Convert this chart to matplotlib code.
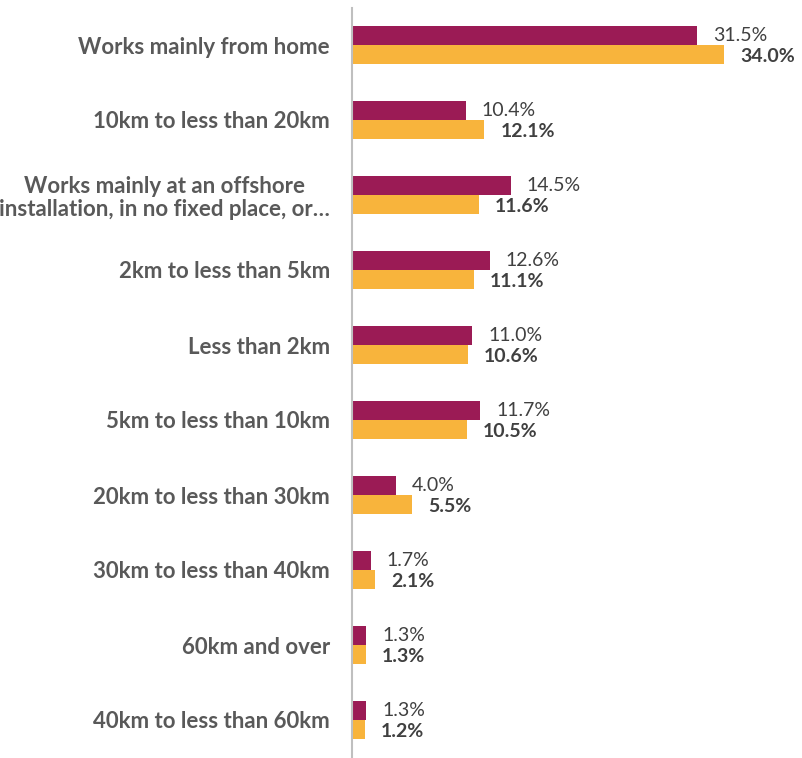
import matplotlib
matplotlib.use("Agg")
import matplotlib.pyplot as plt
import numpy as np

categories = [
    "Works mainly from home",
    "10km to less than 20km",
    "Works mainly at an offshore\ninstallation, in no fixed place, or…",
    "2km to less than 5km",
    "Less than 2km",
    "5km to less than 10km",
    "20km to less than 30km",
    "30km to less than 40km",
    "60km and over",
    "40km to less than 60km",
]
series_a = [31.5, 10.4, 14.5, 12.6, 11.0, 11.7, 4.0, 1.7, 1.3, 1.3]
series_b = [34.0, 12.1, 11.6, 11.1, 10.6, 10.5, 5.5, 2.1, 1.3, 1.2]

color_a = "#9B1B55"
color_b = "#F8B43C"

plt.rcParams['font.family'] = ['Lato', 'DejaVu Sans']

fig = plt.figure(figsize=(8.02, 7.58), dpi=100)
ax = fig.add_axes([352/802, 0.5/758, 1 - 352/802, 750/758])

y = np.arange(len(categories))
h = 0.253
ax.barh(y - h/2, series_a, height=h, color=color_a)
ax.barh(y + h/2, series_b, height=h, color=color_b)

for yi, va, vb in zip(y, series_a, series_b):
    ax.annotate(f"{va:.1f}%", (va, yi - h/2), xytext=(16, 0), textcoords="offset pixels",
                va="center", ha="left", fontsize=14, color="#404040")
    ax.annotate(f"{vb:.1f}%", (vb, yi + h/2), xytext=(16, -2), textcoords="offset pixels",
                va="center", ha="left", fontsize=14, color="#404040", fontweight="bold")

ax.set_xlim(0, 41.1)
ax.set_ylim(len(categories) - 0.5, -0.5)
ax.set_yticks(y)
ax.set_yticklabels(categories, fontsize=16, fontweight="bold", color="#595959",
                   linespacing=1.1)
for lbl in ax.get_yticklabels():
    lbl.set_multialignment("center")
ax.tick_params(axis="y", length=0, pad=16)
ax.set_xticks([])
for s in ["top", "right", "bottom"]:
    ax.spines[s].set_visible(False)
ax.spines["left"].set_color("#BFBFBF")
ax.spines["left"].set_linewidth(1.5)

fig.savefig("out.png", dpi=100)
